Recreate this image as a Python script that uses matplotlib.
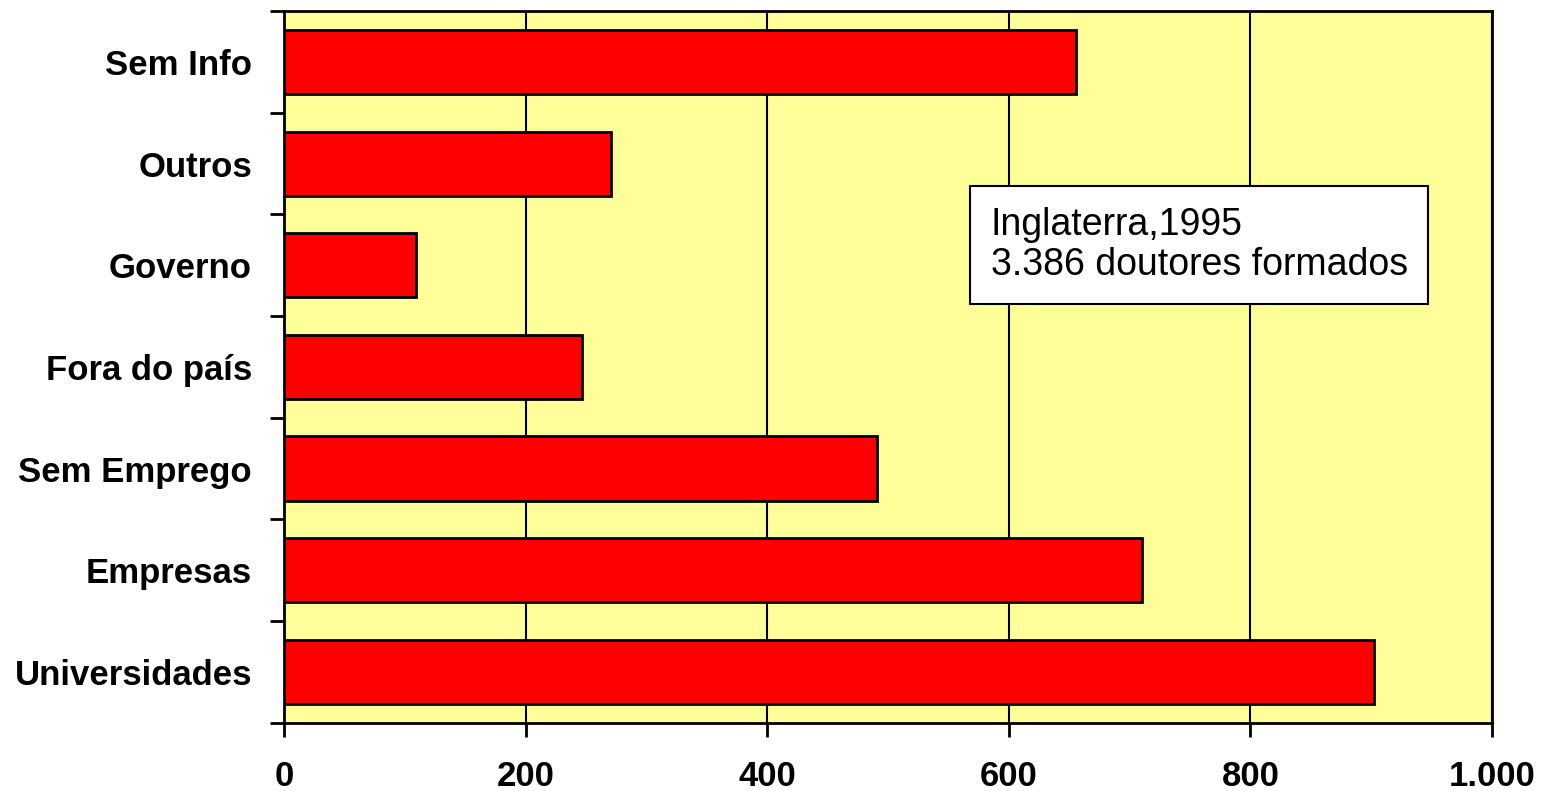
import matplotlib.pyplot as plt
from matplotlib.ticker import FuncFormatter

categories = ["Universidades", "Empresas", "Sem Emprego", "Fora do país",
              "Governo", "Outros", "Sem Info"]
doutores = [902, 710, 491, 247, 109, 271, 656]
x_ticks = [0, 200, 400, 600, 800, 1000]

plt.rcParams["font.family"] = ["Liberation Sans", "DejaVu Sans"]

fig = plt.figure(figsize=(15.43, 7.91), dpi=100)
ax = fig.add_axes([0.184, 0.0864, 0.783, 0.8996])
ax.set_facecolor("#FFFF99")

pos = list(range(len(categories)))
ax.barh(pos, doutores, height=0.63, color="#FF0000", edgecolor="black",
        linewidth=2, zorder=3)

ax.set_xlim(0, 1000)
ax.set_ylim(-0.5, len(categories) - 0.5)
ax.set_xticks(x_ticks)
ax.xaxis.set_major_formatter(
    FuncFormatter(lambda v, _: f"{int(v):,}".replace(",", ".")))
ax.grid(axis="x", color="black", linewidth=1.5, zorder=1)

# category labels sit between the boundary ticks
ax.set_yticks([p - 0.5 for p in pos] + [len(categories) - 0.5])
ax.set_yticklabels([])
ax.set_yticks(pos, minor=True)
ax.set_yticklabels(categories, minor=True, fontsize=25, fontweight="bold")
ax.tick_params(axis="y", which="minor", length=0, pad=23)
ax.tick_params(axis="y", which="major", length=10, width=2)
ax.tick_params(axis="x", length=10, width=2, pad=17, labelsize=25)
for lbl in ax.get_xticklabels():
    lbl.set_fontweight("bold")

for side in ax.spines.values():
    side.set_linewidth(2)

ax.text(0.585, 0.725, "Inglaterra,1995\n3.386 doutores formados",
        transform=ax.transAxes, fontsize=27, va="top", ha="left",
        linespacing=1.15, zorder=5,
        bbox=dict(boxstyle="square,pad=0.55", facecolor="white",
                  edgecolor="black", linewidth=1.5))

fig.savefig("out.png", dpi=100)
